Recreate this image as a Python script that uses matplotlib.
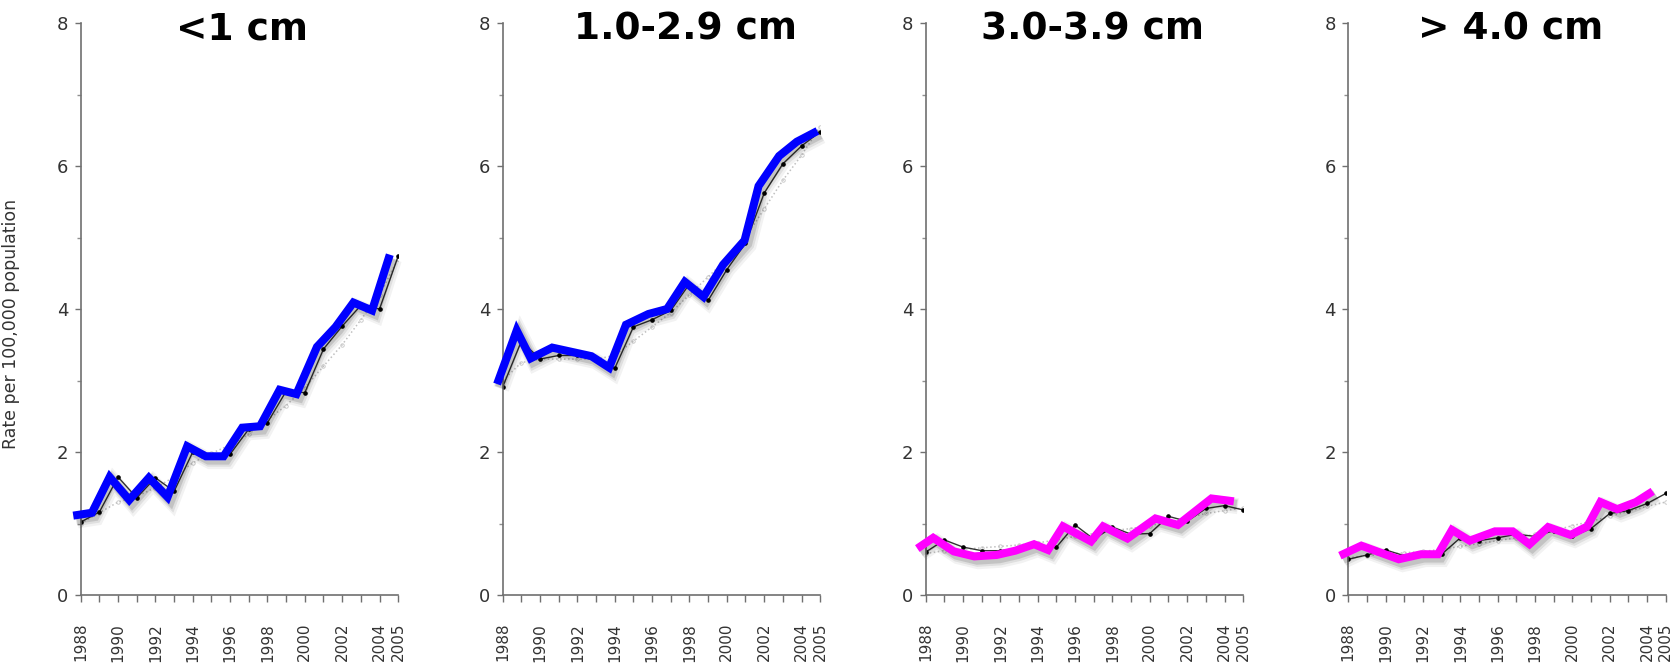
import numpy as np
import matplotlib
matplotlib.use('Agg')
import matplotlib.pyplot as plt
import matplotlib.patheffects as pe
from matplotlib.ticker import MultipleLocator, FixedLocator

years = np.arange(1988, 2006)
year_labels = ['1988', '1990', '1992', '1994', '1996', '1998', '2000', '2002', '2004', '2005']
year_label_pos = [1988, 1990, 1992, 1994, 1996, 1998, 2000, 2002, 2004, 2005]

titles = ['<1 cm', '1.0-2.9 cm', '3.0-3.9 cm', '> 4.0 cm']

# observed rates (thin black line with dots)
obs_lt1 = [1.02, 1.16, 1.65, 1.36, 1.64, 1.45, 2.00, 1.95, 1.97, 2.32, 2.41, 2.85, 2.83, 3.44, 3.76, 4.05, 4.00, 4.74]
obs_1_29 = [2.91, 3.55, 3.30, 3.35, 3.35, 3.30, 3.17, 3.75, 3.85, 3.98, 4.35, 4.12, 4.55, 4.92, 5.62, 6.03, 6.28, 6.48]
obs_3_39 = [0.60, 0.77, 0.67, 0.62, 0.62, 0.65, 0.70, 0.67, 0.98, 0.78, 0.95, 0.85, 0.86, 1.10, 1.03, 1.21, 1.25, 1.19]
obs_gt4 = [0.50, 0.56, 0.63, 0.55, 0.58, 0.57, 0.80, 0.76, 0.80, 0.85, 0.82, 0.90, 0.82, 0.93, 1.14, 1.18, 1.28, 1.42]

# fitted trend (grey dotted)
fit_lt1 = [1.00, 1.15, 1.30, 1.38, 1.50, 1.65, 1.85, 1.98, 2.10, 2.25, 2.45, 2.65, 2.90, 3.20, 3.50, 3.85, 4.20, 4.70]
fit_1_29 = [3.00, 3.25, 3.30, 3.30, 3.30, 3.30, 3.35, 3.55, 3.75, 3.95, 4.20, 4.45, 4.70, 5.00, 5.40, 5.80, 6.15, 6.55]
fit_3_39 = [0.58, 0.62, 0.64, 0.66, 0.68, 0.70, 0.73, 0.77, 0.82, 0.86, 0.90, 0.93, 0.97, 1.02, 1.08, 1.14, 1.18, 1.22]
fit_gt4 = [0.52, 0.55, 0.57, 0.59, 0.61, 0.64, 0.68, 0.72, 0.76, 0.80, 0.85, 0.90, 0.97, 1.03, 1.10, 1.17, 1.24, 1.30]

# highlighted trace drawn over each panel
hl_lt1_x = [1987.6, 1988.6, 1989.55, 1990.6, 1991.65, 1992.65, 1993.7, 1994.7, 1995.65, 1996.65,
            1997.6, 1998.65, 1999.55, 2000.65, 2001.65, 2002.6, 2003.6, 2004.55]
hl_lt1_y = [1.11, 1.15, 1.65, 1.33, 1.64, 1.37, 2.08, 1.94, 1.94, 2.34, 2.36, 2.87, 2.81, 3.47, 3.75, 4.09, 3.98, 4.76]

hl_1_29_x = [1987.7, 1988.75, 1989.5, 1990.65, 1991.7, 1992.75, 1993.7, 1994.6, 1995.8, 1996.8,
             1997.75, 1998.75, 1999.8, 2000.95, 2001.7, 2002.8, 2003.75, 2004.85]
hl_1_29_y = [2.95, 3.70, 3.31, 3.46, 3.40, 3.34, 3.18, 3.78, 3.93, 4.00, 4.38, 4.17, 4.62, 4.96, 5.72, 6.14, 6.34, 6.49]

hl_3_39_x = [1987.55, 1988.4, 1989.5, 1990.6, 1991.8, 1992.8, 1993.8, 1994.55, 1995.35, 1996.85,
             1997.5, 1998.8, 2000.3, 2001.5, 2003.3, 2004.5]
hl_3_39_y = [0.65, 0.80, 0.61, 0.54, 0.56, 0.62, 0.71, 0.63, 0.96, 0.75, 0.96, 0.79, 1.07, 0.98, 1.35, 1.31]

hl_gt4_x = [1987.55, 1988.7, 1990.7, 1991.9, 1992.8, 1993.55, 1994.5, 1995.85, 1996.8, 1997.7,
            1998.7, 1999.9, 2000.8, 2001.5, 2002.4, 2003.4, 2004.3]
hl_gt4_y = [0.55, 0.69, 0.50, 0.57, 0.57, 0.91, 0.76, 0.89, 0.89, 0.71, 0.95, 0.84, 0.96, 1.30, 1.20, 1.30, 1.45]

observed = [obs_lt1, obs_1_29, obs_3_39, obs_gt4]
fitted = [fit_lt1, fit_1_29, fit_3_39, fit_gt4]
hl_x = [hl_lt1_x, hl_1_29_x, hl_3_39_x, hl_gt4_x]
hl_y = [hl_lt1_y, hl_1_29_y, hl_3_39_y, hl_gt4_y]
hl_colors = ['#0000FF', '#0000FF', '#FF00FF', '#FF00FF']

W, H = 1681, 664
fig = plt.figure(figsize=(W / 100, H / 100), dpi=100)

# panel placement in pixels: left edge of y axis, width, and title centre
lefts = [80.7, 502.7, 925.7, 1348.3]
title_x = [242, 686, 1093, 1511]
ax_w = 317.5
ax_top, ax_bot = 23, 595

# soft drop shadow under the thick trace
shadow = [
    pe.SimpleLineShadow(offset=(3, -3.5), shadow_color='black', alpha=0.05, linewidth=11.5),
    pe.SimpleLineShadow(offset=(2.5, -3), shadow_color='black', alpha=0.08, linewidth=9),
    pe.SimpleLineShadow(offset=(2, -2.5), shadow_color='black', alpha=0.12, linewidth=7),
    pe.Normal(),
]

for i in range(4):
    ax = fig.add_axes([lefts[i] / W, (H - ax_bot) / H, ax_w / W, (ax_bot - ax_top) / H])

    ax.plot(years, fitted[i], color='#c0c0c0', linestyle=':', linewidth=1.1,
            marker='o', markersize=2.5, markerfacecolor='none', markeredgecolor='#c4c4c4',
            markeredgewidth=0.6)
    ax.plot(years, observed[i], color='#333333', linewidth=1.0,
            marker='o', markersize=2.3, markerfacecolor='black', markeredgecolor='black')
    ax.plot(hl_x[i], hl_y[i], color=hl_colors[i], linewidth=5.8,
            solid_capstyle='butt', solid_joinstyle='miter', clip_on=False,
            path_effects=shadow, zorder=5)

    ax.set_xlim(1988, 2005)
    ax.set_ylim(0, 8)

    for side in ['top', 'right']:
        ax.spines[side].set_visible(False)
    for side in ['left', 'bottom']:
        ax.spines[side].set_color('#707070')
        ax.spines[side].set_linewidth(1.2)

    ax.yaxis.set_major_locator(MultipleLocator(2))
    ax.yaxis.set_minor_locator(MultipleLocator(1))
    ax.xaxis.set_major_locator(FixedLocator(year_label_pos))
    ax.xaxis.set_minor_locator(MultipleLocator(1))
    ax.set_xticklabels(year_labels, rotation=90)

    ax.tick_params(axis='y', which='major', length=4, width=1, color='#707070',
                   labelsize=13, labelcolor='#333333', pad=5)
    ax.tick_params(axis='y', which='minor', length=3, width=1, color='#909090')
    ax.tick_params(axis='x', which='both', length=5, width=1, color='#707070',
                   labelsize=11, labelcolor='#333333', pad=15)

    fig.text(title_x[i] / W, 1 - 30 / H, titles[i], ha='center', va='center',
             fontsize=27, fontweight='bold', color='black')

    if i == 0:
        ax.set_ylabel('Rate per 100,000 population', fontsize=12.5, color='#333333')
        ax.yaxis.set_label_coords((20 - lefts[0]) / ax_w, (ax_bot - 324) / (ax_bot - ax_top))

fig.savefig('out.png', dpi=100)
